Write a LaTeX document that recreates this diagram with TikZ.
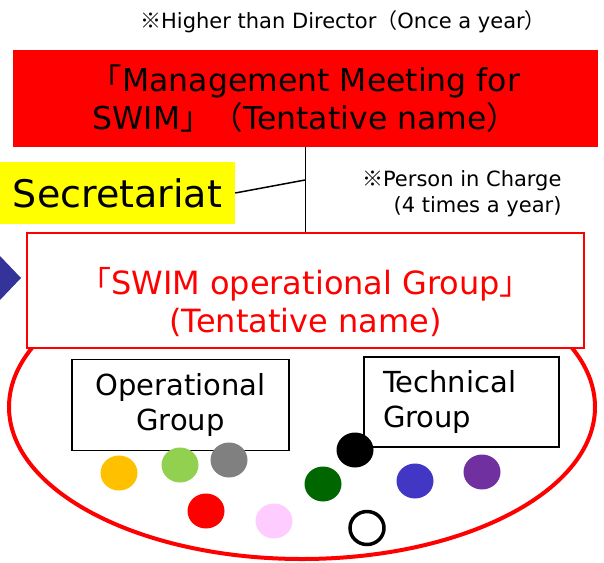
\documentclass[tikz,border=0pt]{standalone}
\usepackage{fontspec}
\setmainfont{DejaVu Sans}
\newfontfamily\cjk{Noto Sans CJK JP}
\definecolor{swimred}{HTML}{FF0000}
\definecolor{secyellow}{HTML}{FFFF00}
\definecolor{arrowblue}{HTML}{333399}
\definecolor{mOrange}{HTML}{FFC000}
\definecolor{mLime}{HTML}{92D050}
\definecolor{mGray}{HTML}{808080}
\definecolor{mGreen}{HTML}{006600}
\definecolor{mBlue}{HTML}{4236C4}
\definecolor{mPurple}{HTML}{7030A0}
\definecolor{mPink}{HTML}{FFCCFF}
\tikzset{
  groupbox/.style={draw,line width=1.5pt,fill=white,inner sep=0pt},
  member/.style={line width=3.5pt}
}
\begin{document}
\begin{tikzpicture}[x=1pt,y=-1pt]
        \useasboundingbox (0,0) rectangle (604,562);
        %% working group ellipse
        \draw[swimred,line width=4pt] (302,407) ellipse (293pt and 152pt);
        %% management meeting
        \node[anchor=center,font=\fontsize{21}{24}\selectfont] (note) at (343,22)
            {{\cjk ※}Higher than Director{\cjk （}Once a year{\cjk ）}};
        \node[fill=swimred,inner sep=0pt,minimum width=585pt,minimum height=97pt,
              align=center,font=\fontsize{31.5}{38}\selectfont] (mgmt) at (305.5,98.5)
            {{\cjk 「}Management Meeting for\\SWIM{\cjk 」（}Tentative name{\cjk ）}};
        %% secretariat
        \node[fill=secyellow,inner sep=0pt,minimum width=235pt,minimum height=62pt,
              font=\fontsize{38}{44}\selectfont] (secr) at (117.5,193) {Secretariat};
        \node[anchor=east,align=right,font=\fontsize{21}{26}\selectfont] (charge) at (565,194)
            {{\cjk ※}Person in Charge\\(4 times a year)};
        %% operational group
        \node[draw=swimred,line width=1.5pt,fill=white,inner sep=0pt,minimum width=557pt,
              minimum height=115pt] (swimgrp) at (305.5,290.5) {};
        \node[align=center,text=swimred,font=\fontsize{32}{38}\selectfont] (swimtxt)
            at (305.5,302) {{\cjk 「}SWIM operational Group{\cjk 」}\\(Tentative name)};
        \draw[line width=1.5pt] (mgmt.south) -- (swimgrp.north);
        \coordinate (tap) at (305,180);
        \draw[line width=1.5pt] (secr.east) -- (tap);
        \fill[arrowblue] (0,256) -- (21,278) -- (0,300) -- cycle;
        %% sub groups
        \node[groupbox,minimum width=217pt,minimum height=91pt,align=center,
              font=\fontsize{29}{35}\selectfont] (opgrp) at (180.5,405) {Operational\\Group};
        \node[groupbox,minimum width=195pt,minimum height=90pt,inner xsep=19pt,
              text width=157pt,align=left,
              font=\fontsize{29}{35}\selectfont] (techgrp) at (461.5,402) {Technical\\Group};
        %% members
        \foreach \x/\y/\c in {119/473/mOrange,180/465/mLime,229/460/mGray,355/450/black,
                              323/484/mGreen,415/481/mBlue,482/472/mPurple,206/511/swimred,
                              274/521/mPink}
            \fill[\c] (\x,\y) ellipse (18.5pt and 17.5pt);
        \draw[member,fill=white] (367,528) ellipse (17pt and 16.5pt);
\end{tikzpicture}
\end{document}
